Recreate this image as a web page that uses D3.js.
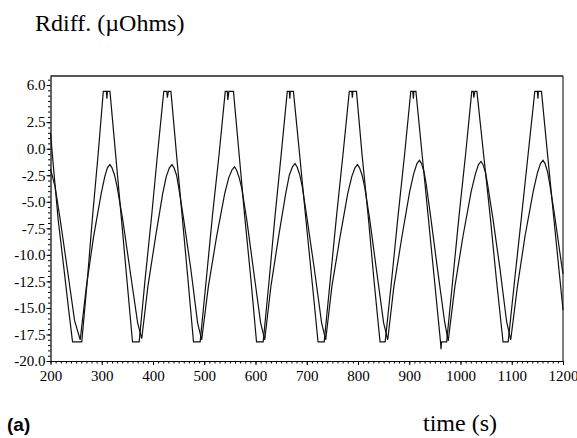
<!DOCTYPE html>
<html>
<head>
<meta charset="utf-8">
<script src="https://cdn.jsdelivr.net/npm/d3@7/dist/d3.min.js"></script>
<style>
  body { margin: 0; background: #fff; }
  svg { display: block; }
</style>
</head>
<body>
<svg width="577" height="438"></svg>
<script>
// x: time (s), y: Rdiff (uOhms)
const xTicks = [200, 300, 400, 500, 600, 700, 800, 900, 1000, 1100, 1200]
const yTicks = [-20, -17.5, -15, -12.5, -10, -7.5, -5, -2.5, 0, 2.5, 6]

// stepped trace, large swing
const seriesA = [
    [200, 1.5], [207, -2.4], [215, -6.7], [225, -10.8], [235, -15.0], [243, -18.2], [261, -18.2],
    [272, -12.3], [282, -6.4], [293, -0.5], [303, 5.4], [309, 5.4], [310, 4.7], [311, 5.4], [316, 5.4],
    [327, -0.5], [338, -6.4], [349, -12.3], [360, -18.2], [373, -18.2],
    [385, -12.1], [397, -6.5], [409, -0.4], [421, 5.4], [427, 5.4], [428, 4.8], [430, 5.4], [435, 5.4],
    [446, -0.6], [457, -6.4], [468, -12.2], [479, -18.2], [492, -18.2],
    [504, -12.3], [516, -6.3], [529, -0.5], [541, 5.4], [545, 5.4], [546, 4.6], [548, 5.4], [557, 5.4],
    [568, -0.5], [579, -6.4], [591, -12.3], [602, -18.2], [615, -18.2],
    [627, -12.2], [638, -6.4], [650, -0.6], [662, 5.4], [666, 5.4], [667, 4.7], [668, 5.4], [674, 5.4],
    [686, -0.5], [698, -6.5], [710, -12.3], [722, -18.2], [734, -18.2],
    [746, -12.3], [758, -6.4], [771, -0.4], [783, 5.4], [788, 5.4], [789, 4.8], [790, 5.4], [797, 5.4],
    [808, -0.6], [820, -6.4], [831, -12.3], [843, -18.2], [853, -18.2],
    [866, -12.2], [878, -6.4], [891, -0.5], [903, 5.4], [907, 5.4], [908, 4.7], [909, 5.4], [913, 5.4],
    [925, -0.5], [937, -6.4], [949, -12.3], [961, -18.2], [962, -18.9], [963, -18.2], [973, -18.2],
    [985, -12.3], [997, -6.4], [1010, -0.5], [1022, 5.4], [1025, 5.4], [1026, 4.8], [1028, 5.4], [1032, 5.4],
    [1045, -0.5], [1058, -6.4], [1070, -12.3], [1083, -18.2], [1093, -18.2],
    [1106, -12.2], [1119, -6.4], [1132, -0.5], [1145, 5.4], [1150, 5.4], [1151, 4.7], [1152, 5.4], [1158, 5.4],
    [1170, -0.6], [1182, -6.5], [1194, -12.3], [1200, -15.2]
]

// smoother trace, smaller swing
const seriesB = [
    [200, -1.9], [209, -3.6], [219, -6.7], [233, -11.4], [247, -16.2], [258, -18.0],
    [270, -13.0], [284, -8.3], [299, -4.2], [306, -2.6], [311, -1.8], [316, -1.5], [320, -1.8],
    [325, -2.5], [330, -3.6], [341, -6.7], [355, -11.4], [370, -16.4], [378, -17.9],
    [390, -13.0], [405, -8.3], [419, -4.2], [426, -2.6], [432, -1.8], [437, -1.5], [441, -1.8],
    [446, -2.5], [450, -3.6], [460, -6.7], [474, -11.4], [487, -16.4], [495, -18.0],
    [508, -13.0], [524, -8.3], [540, -4.2], [548, -2.7], [554, -2.0], [559, -1.7], [563, -2.0],
    [568, -2.7], [573, -3.7], [583, -6.7], [596, -11.4], [610, -16.4], [618, -18.0],
    [630, -13.0], [645, -8.3], [659, -4.2], [666, -2.5], [672, -1.7], [677, -1.4], [681, -1.7],
    [686, -2.4], [691, -3.5], [701, -6.7], [715, -11.4], [729, -16.4], [737, -18.0],
    [749, -13.0], [765, -8.3], [780, -4.2], [788, -2.6], [794, -1.8], [799, -1.5], [803, -1.8],
    [808, -2.5], [813, -3.6], [823, -6.7], [836, -11.4], [850, -16.4], [858, -18.0],
    [870, -13.0], [886, -8.2], [901, -4.0], [909, -2.3], [915, -1.4], [920, -1.1], [924, -1.4],
    [929, -2.2], [933, -3.3], [942, -6.5], [955, -11.3], [969, -16.3], [976, -18.1],
    [989, -13.0], [1005, -8.2], [1021, -4.0], [1029, -2.4], [1035, -1.5], [1040, -1.2], [1044, -1.5],
    [1049, -2.3], [1053, -3.4], [1063, -6.5], [1077, -11.3], [1090, -16.3], [1098, -18.0],
    [1111, -13.0], [1126, -8.2], [1142, -4.0], [1150, -2.3], [1156, -1.4], [1161, -1.1], [1165, -1.4],
    [1170, -2.2], [1174, -3.3], [1184, -6.4], [1196, -10.5], [1200, -11.8]
]

const serif = "'Liberation Serif', 'Times New Roman', serif"

const svg = d3.select("svg")

const x = d3.scaleLinear().domain([200, 1200]).range([50.5, 563])
const y = d3.scaleLinear().domain([-20, 6.85]).range([361, 76])

// frame: grey top edge, thin right edge
svg.append("line")
    .attr("x1", x(200)).attr("x2", x(1200))
    .attr("y1", y(6.85)).attr("y2", y(6.85))
    .attr("stroke", "#555").attr("stroke-width", 2)

svg.append("line")
    .attr("x1", x(1200)).attr("x2", x(1200))
    .attr("y1", y(6.85)).attr("y2", y(-20))
    .attr("stroke", "#000").attr("stroke-width", 1)

// minor ticks
svg.append("g")
    .attr("transform", `translate(0, ${y(-20)})`)
    .call(d3.axisBottom(x).tickValues(d3.range(200, 1201, 10)).tickSize(2.5).tickFormat(""))
    .call(g => g.select(".domain").remove())

svg.append("g")
    .attr("transform", `translate(${x(200)}, 0)`)
    .call(d3.axisLeft(y).tickValues(d3.range(-20, 6.6, 0.5)).tickSize(2.5).tickFormat(""))
    .call(g => g.select(".domain").remove())

// major ticks + labels
const xAxis = svg.append("g")
    .attr("transform", `translate(0, ${y(-20)})`)
    .attr("font-family", serif)
    .attr("font-size", 15)
    .call(d3.axisBottom(x).tickValues(xTicks).tickSize(4).tickSizeOuter(0).tickPadding(5).tickFormat(d => d))

const yAxis = svg.append("g")
    .attr("transform", `translate(${x(200)}, 0)`)
    .call(d3.axisLeft(y).tickValues(yTicks).tickSize(4).tickSizeOuter(0).tickPadding(1).tickFormat(d => d.toFixed(1)))

xAxis.attr("font-family", serif).attr("font-size", 15)
yAxis.attr("font-family", serif).attr("font-size", 15)
svg.selectAll(".tick text")
    .style("font-family", serif)
    .style("font-size", "15px")
    .style("fill", "#000")
xAxis.select(".domain").attr("stroke-width", 1.2)
yAxis.select(".domain").attr("stroke-width", 1.2)

// the two traces
const line = d3.line()
    .x(d => x(d[0]))
    .y(d => y(d[1]))

svg.append("path")
    .datum(seriesA)
    .attr("d", line)
    .attr("fill", "none")
    .attr("stroke", "#111")
    .attr("stroke-width", 1.2)

svg.append("path")
    .datum(seriesB)
    .attr("d", line)
    .attr("fill", "none")
    .attr("stroke", "#111")
    .attr("stroke-width", 1.2)

// titles
svg.append("text")
    .attr("x", 35)
    .attr("y", 31)
    .style("font-family", serif)
    .style("font-size", "24px")
    .text("Rdiff. (µOhms)")

svg.append("text")
    .attr("x", 423)
    .attr("y", 431)
    .style("font-family", serif)
    .style("font-size", "24px")
    .text("time (s)")

svg.append("text")
    .attr("x", 7)
    .attr("y", 431)
    .style("font-family", "'Liberation Sans', Arial, sans-serif")
    .style("font-weight", "bold")
    .style("font-size", "19px")
    .text("(a)")
</script>
</body>
</html>
